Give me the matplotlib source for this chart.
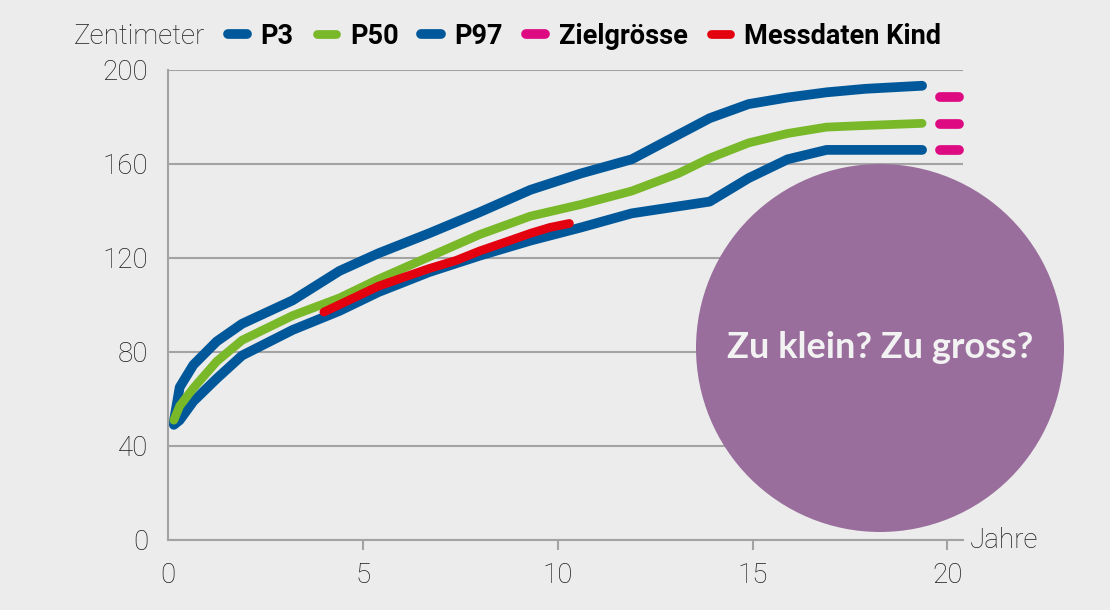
import matplotlib
matplotlib.use('Agg')
import matplotlib.pyplot as plt
from matplotlib.patches import Ellipse

# Alter in Jahren und Perzentilen (cm)
alter = [0.15, 0.3, 0.65, 1.25, 1.9, 3.2, 4.4, 5.4, 6.7, 8.0, 9.3, 10.6,
         11.9, 13.1, 13.9, 14.9, 15.9, 16.9, 17.9, 19.35]
p3 = [49, 51, 59, 68.7, 78.5, 89.4, 97.5, 105.5, 114, 121, 127.4, 133,
      139, 142, 144, 154, 162, 166, 166, 166]
p50 = [51, 57, 64.6, 76, 85, 95.5, 103, 111, 120.5, 130, 137.8, 142.8,
       148.5, 156, 162.5, 169, 173, 175.7, 176.4, 177.3]
p97 = [50.5, 65, 74.5, 84.5, 92, 102, 114.5, 122, 130.5, 139.5, 149, 156,
       162, 172.5, 179.5, 185.5, 188.3, 190.5, 192, 193.3]

kind_alter = [4.0, 4.7, 5.4, 6.0, 6.7, 7.4, 8.0, 8.7, 9.3, 9.8, 10.3]
kind_groesse = [97, 102.5, 108, 111.5, 115.5, 119, 123, 127, 130.5, 133, 134.7]

ziel_alter = 20.05
zielgroesse = [188.5, 177, 166]

x_ticks = [0, 5, 10, 15, 20]
y_ticks = [0, 40, 80, 120, 160, 200]

bg = '#ececec'
blau = '#00589b'
gruen = '#79b829'
pink = '#dd0a82'
rot = '#e3000f'
grau = '#a3a3a3'

fig = plt.figure(figsize=(11.1, 6.1), dpi=100, facecolor=bg)
ax = fig.add_axes([168 / 1110, 70 / 610, 795 / 1110, 470 / 610], facecolor=bg)

lw = 7
ax.plot(alter, p3, color=blau, lw=lw, solid_capstyle='round', solid_joinstyle='round', label='P3', zorder=3)
ax.plot(alter, p97, color=blau, lw=lw, solid_capstyle='round', solid_joinstyle='round', label='P97', zorder=3)
ax.plot(alter, p50, color=gruen, lw=6.3, solid_capstyle='round', solid_joinstyle='round', label='P50', zorder=4)
for i, z in enumerate(zielgroesse):
    ax.plot([ziel_alter - 0.25, ziel_alter + 0.25], [z, z], color=pink, lw=lw,
            solid_capstyle='round', clip_on=False, zorder=3,
            label='Zielgrösse' if i == 0 else None)
ax.plot(kind_alter, kind_groesse, color=rot, lw=6.3, solid_capstyle='round',
        solid_joinstyle='round', label='Messdaten Kind', zorder=5)

ax.set_xlim(0, 20.4)
ax.set_ylim(0, 200)
ax.set_xticks(x_ticks)
ax.set_yticks(y_ticks)

tick_font = dict(family='Roboto', weight='light', size=20, color='#1c1c1c')
ax.set_xticklabels([str(t) for t in x_ticks], **tick_font)
ax.set_yticklabels([str(t) for t in y_ticks], **tick_font)
ax.tick_params(axis='y', length=0, pad=14)
ax.tick_params(axis='x', length=7, width=1.5, color=grau, pad=9, direction='out')
ax.xaxis.get_major_ticks()[0].tick1line.set_visible(False)

ax.grid(axis='y', color=grau, lw=1.5)
ax.set_axisbelow(True)
for s in ['top', 'right']:
    ax.spines[s].set_visible(False)
for s in ['left', 'bottom']:
    ax.spines[s].set_color(grau)
    ax.spines[s].set_linewidth(1.5)

ax.text(1.008, 0, 'Jahre', transform=ax.transAxes, ha='left', va='center', **tick_font)

# Legende oben
handles, labels = ax.get_legend_handles_labels()
order = ['P3', 'P50', 'P97', 'Zielgrösse', 'Messdaten Kind']
h = [handles[labels.index(o)] for o in order]
fig.text(205 / 1110, 1 - 36 / 610, 'Zentimeter', ha='right', va='center', **tick_font)
fig.legend(h, order, loc='center left', bbox_to_anchor=(214 / 1110, 1 - 36 / 610),
           ncol=5, frameon=False, borderpad=0, handlelength=0.72, handletextpad=0.5,
           columnspacing=0.85, prop=dict(family='Roboto', weight='bold', size=19.5))

# Kreis mit Text
cx, cy, r = 880, 348, 184
fig.add_artist(Ellipse((cx / 1110, 1 - cy / 610), 2 * r / 1110, 2 * r / 610,
                       transform=fig.transFigure, facecolor='#9a6e9c', edgecolor='none', zorder=10))
fig.text(cx / 1110, 1 - cy / 610, 'Zu klein? Zu gross?', ha='center', va='center',
         family='Lato', weight='bold', size=26, color='#f2f2f2', zorder=11)

fig.savefig('out.png', dpi=100, facecolor=bg)
